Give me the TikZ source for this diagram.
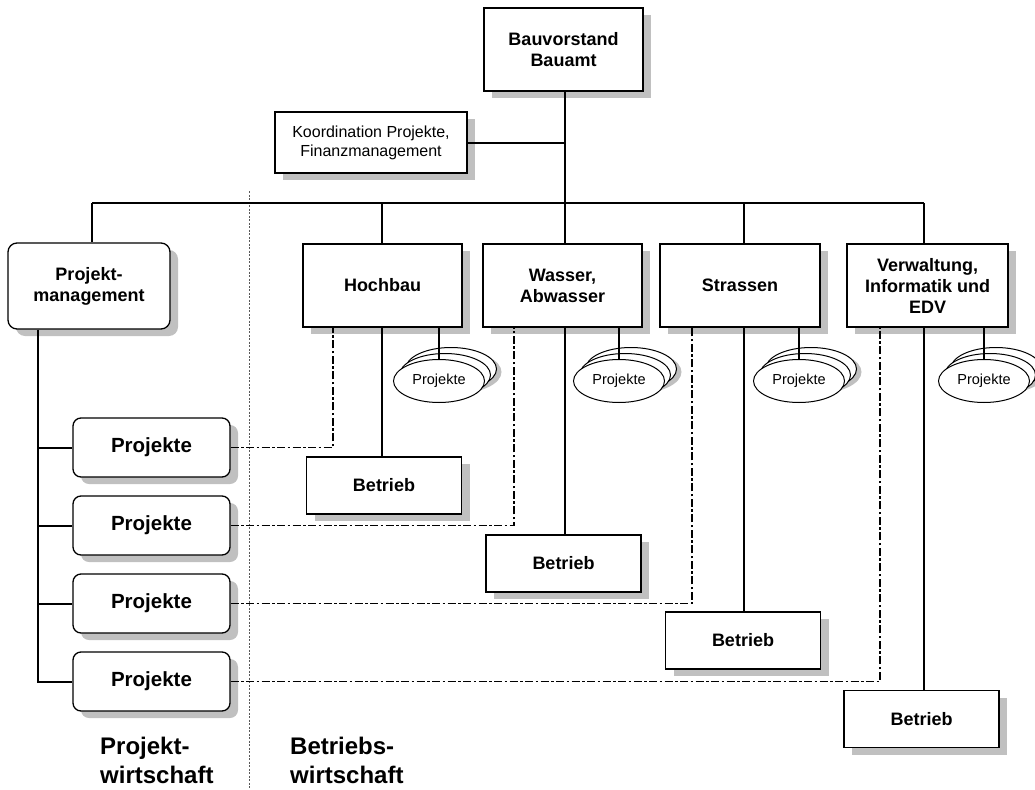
\documentclass[tikz,border=0pt]{standalone}
\usepackage{fontspec}
\setmainfont{Liberation Sans}
\usetikzlibrary{shapes.geometric,shadows}
\definecolor{shgray}{RGB}{192,192,192}
\begin{document}
\begin{tikzpicture}[x=1pt,y=-1pt,
  shd/.style={general shadow={fill=shgray, shadow xshift=8pt, shadow yshift=-7pt}},
  box/.style={draw=black, line width=1.3pt, fill=white, inner sep=0pt, align=center,
    font=\fontsize{18}{21}\selectfont\bfseries, shd},
  rbox/.style={box, rounded corners=9pt},
  ell/.style={draw=black, ellipse, line width=1pt, fill=white, minimum width=91pt,
    minimum height=43pt, inner sep=0pt, font=\fontsize{14.5}{17}\selectfont},
  ellshd/.style={general shadow={fill=shgray, shadow xshift=5pt, shadow yshift=-3pt}},
  conn/.style={line width=2pt},
  dd/.style={line width=1.9pt, dash pattern=on 8pt off 2.5pt on 2.5pt off 2.5pt},
  divider/.style={draw=black!65, line width=0.8pt, dash pattern=on 2pt off 1.5pt},
  big/.style={anchor=base west, inner sep=0pt, font=\fontsize{24}{29}\selectfont\bfseries}
]
\useasboundingbox (0,0) rectangle (1035,789);

% divider
\coordinate (divT) at (249,191);
\coordinate (divB) at (249,789);
\draw[divider] (divT) -- (divB);

% top
\node[box, minimum width=159pt, minimum height=83pt] (bau) at (563.5,49.5) {Bauvorstand\\Bauamt};
\node[box, font=\fontsize{16}{19}\selectfont, minimum width=192pt, minimum height=61pt] (koord) at (371,142.5) {Koordination Projekte,\\Finanzmanagement};

% second level
\node[rbox, minimum width=162pt, minimum height=86pt] (pm) at (89,286) {Projekt-\\management};
\node[box, minimum width=159pt, minimum height=83pt] (hoch) at (382.5,285.5) {Hochbau};
\node[box, minimum width=159pt, minimum height=83pt] (wass) at (562.5,285.5) {Wasser,\\Abwasser};
\node[box, minimum width=160pt, minimum height=83pt] (stra) at (740,285.5) {Strassen};
\node[box, minimum width=161pt, minimum height=83pt] (verw) at (927.5,285.5) {Verwaltung,\\Informatik und\\EDV};

% bus and drops
\coordinate (dP) at (92,203);
\coordinate (dH) at (382,203);
\coordinate (dB) at (565,203);
\coordinate (dS) at (744,203);
\coordinate (dV) at (924,203);
\draw[conn] (dB |- bau.south) -- (dB);
\draw[conn] (koord.east) -- (koord.east -| dB);
\draw[conn] (dP) -- (dV);
\draw[conn] (dP) -- (dP |- pm.north);
\draw[conn] (dH) -- (dH |- hoch.north);
\draw[conn] (dB) -- (dB |- wass.north);
\draw[conn] (dS) -- (dS |- stra.north);
\draw[conn] (dV) -- (dV |- verw.north);

% Projekte boxes
\node[rbox, font=\fontsize{20.5}{24}\selectfont\bfseries, rounded corners=8pt, minimum width=157pt, minimum height=59pt] (p1) at (151.5,447.5) {Projekte};
\node[rbox, font=\fontsize{20.5}{24}\selectfont\bfseries, rounded corners=8pt, minimum width=157pt, minimum height=59pt] (p2) at (151.5,525.5) {Projekte};
\node[rbox, font=\fontsize{20.5}{24}\selectfont\bfseries, rounded corners=8pt, minimum width=157pt, minimum height=59pt] (p3) at (151.5,603.5) {Projekte};
\node[rbox, font=\fontsize{20.5}{24}\selectfont\bfseries, rounded corners=8pt, minimum width=157pt, minimum height=59pt] (p4) at (151.5,681.5) {Projekte};

\coordinate (pmx) at (38,0);
\draw[conn] (pm.south -| pmx) -- (pmx |- p4.west) -- (p4.west);
\draw[conn] (pmx |- p1.west) -- (p1.west);
\draw[conn] (pmx |- p2.west) -- (p2.west);
\draw[conn] (pmx |- p3.west) -- (p3.west);

% Betrieb boxes
\node[box, minimum width=155pt, minimum height=57pt] (hb) at (384,485.5) {Betrieb};
\node[box, minimum width=155pt, minimum height=57pt] (wb) at (563.5,563.5) {Betrieb};
\node[box, minimum width=155pt, minimum height=57pt] (sb) at (743,640.5) {Betrieb};
\node[box, minimum width=155pt, minimum height=57pt] (vb) at (921.5,719) {Betrieb};
\draw[conn] (dH |- hoch.south) -- (dH |- hb.north);
\draw[conn] (dB |- wass.south) -- (dB |- wb.north);
\draw[conn] (dS |- stra.south) -- (dS |- sb.north);
\draw[conn] (dV |- verw.south) -- (dV |- vb.north);

% dash-dot links
\coordinate (x1) at (333,0);
\coordinate (x2) at (514,0);
\coordinate (x3) at (692,0);
\coordinate (x4) at (880,0);
\draw[dd] (p1.east) -| (x1 |- hoch.south);
\draw[dd] (p2.east) -| (x2 |- wass.south);
\draw[dd] (p3.east) -| (x3 |- stra.south);
\draw[dd] (p4.east) -| (x4 |- verw.south);

% ellipse stacks
\foreach \n/\b/\x in {h/hoch/439, w/wass/619, s/stra/799, v/verw/984} {
  \coordinate (\n c) at (\x,381);
  \node[ell, ellshd] (\n e3) at ([shift={(12,-12)}]\n c) {};
  \node[ell] (\n e2) at ([shift={(6,-6)}]\n c) {};
  \node[ell] (\n e1) at (\n c) {Projekte};
  \draw[conn] (\n c |- \b.south) -- (\n e1.north);
}

% bottom labels
\node[big] (pw1) at (100,754) {Projekt-};
\node[big] (pw2) at (100,783) {wirtschaft};
\node[big] (bw1) at (290,754) {Betriebs-};
\node[big] (bw2) at (290,783) {wirtschaft};
\end{tikzpicture}
\end{document}
